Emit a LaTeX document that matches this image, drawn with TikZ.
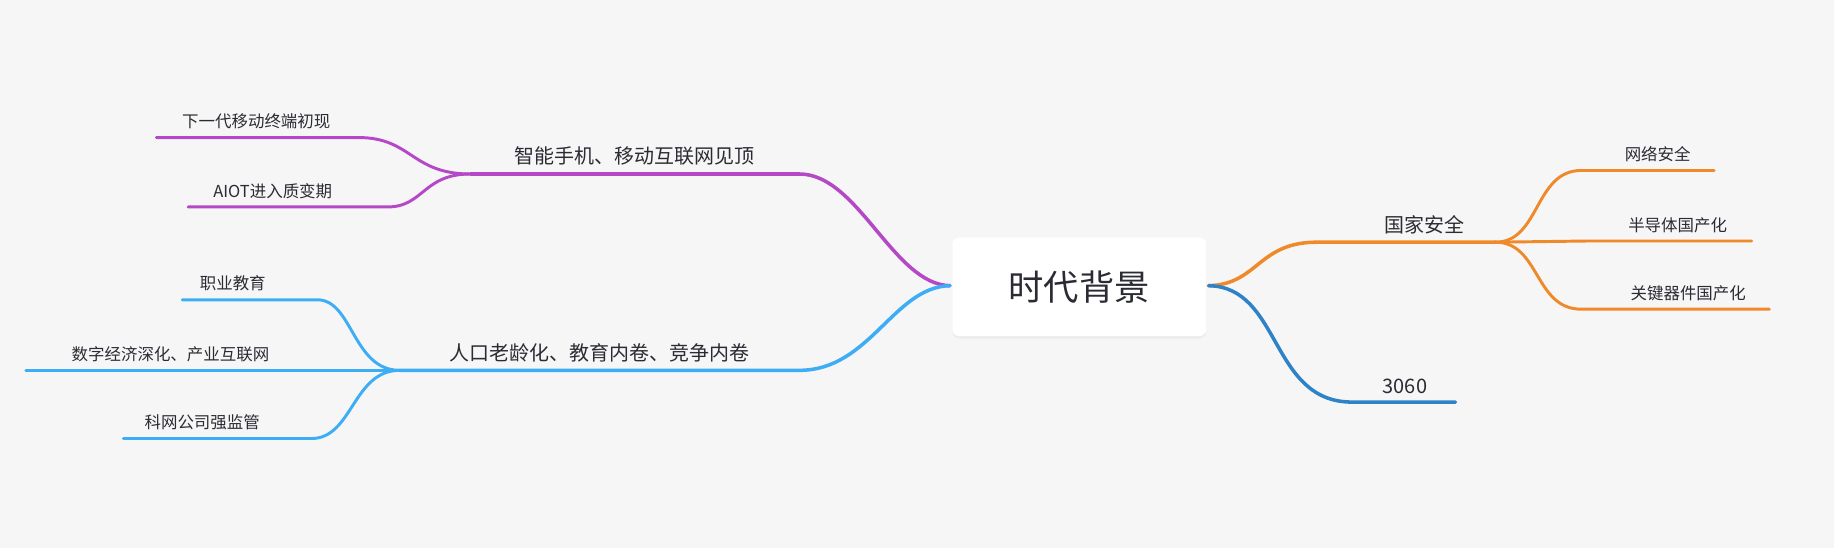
\documentclass[tikz,border=0pt]{standalone}
\usepackage{fontspec}
\setmainfont{Noto Sans CJK SC}
\usetikzlibrary{positioning, shadows}
\definecolor{bgcol}{HTML}{F6F6F6}
\definecolor{mypurple}{HTML}{B548C6}
\definecolor{mysky}{HTML}{3DAEF5}
\definecolor{myorange}{HTML}{F0892A}
\definecolor{mynavy}{HTML}{2E82C8}
\definecolor{mytext}{HTML}{2B2B33}

\begin{document}
\begin{tikzpicture}[
    x=1pt, y=-1pt,
    root/.style={rectangle, rounded corners=6pt, fill=white, minimum width=216pt, minimum height=84pt, text=mytext, font=\fontsize{30}{32}\selectfont, drop shadow={opacity=0.08, shadow xshift=0pt, shadow yshift=-2pt}},
    topic/.style={text=mytext, font=\fontsize{17}{19}\selectfont, anchor=south, inner sep=2pt},
    leaf/.style={text=mytext, font=\fontsize{14}{16}\selectfont, anchor=south, inner sep=2pt},
    main/.style={line width=3pt, line cap=round},
    sub/.style={line width=2.5pt, line cap=round}
]
\fill[bgcol] (0,0) rectangle (1560,466);
\useasboundingbox (0,0) rectangle (1560,466);

% Root
\node[root] (root) at (918,244) {时代背景};
\coordinate (rootW) at (808,243);
\coordinate (rootE) at (1028,243);

% Purple branch
\coordinate (p0) at (680,148);
\coordinate (p1) at (400,148);
\coordinate (p1a) at (305,117);
\coordinate (p1aa) at (133,117);
\coordinate (p1b) at (330,176);
\coordinate (p1bb) at (160,176);
\node[topic] (phone) at (540,143) {智能手机、移动互联网见顶};
\node[leaf] (mobile) at (218,112) {下一代移动终端初现};
\node[leaf] (aiot) at (232,171) {AIOT进入质变期};
\draw[main, mypurple] (rootW) .. controls (760,242) and (730,148) .. (p0) -- (p1);
\draw[sub, mypurple] (p1) .. controls (350,148) and (350,117) .. (p1a) -- (p1aa);
\draw[sub, mypurple] (p1) .. controls (360,148) and (360,176) .. (p1b) -- (p1bb);

% Sky-blue branch
\coordinate (s0) at (680,315);
\coordinate (s1) at (340,315);
\coordinate (s1a) at (270,255);
\coordinate (s1aa) at (155,255);
\coordinate (s1b) at (265,315);
\coordinate (s1bb) at (22,315);
\coordinate (s1c) at (265,373);
\coordinate (s1cc) at (105,373);
\node[topic] (aging) at (510,310) {人口老龄化、教育内卷、竞争内卷};
\node[leaf] (voc) at (198,250) {职业教育};
\node[leaf] (digit) at (145,310) {数字经济深化、产业互联网};
\node[leaf] (reg) at (172,368) {科网公司强监管};
\draw[main, mysky] (rootW) .. controls (760,244) and (740,315) .. (s0) -- (s1);
\draw[sub, mysky] (s1) .. controls (300,315) and (300,255) .. (s1a) -- (s1aa);
\draw[sub, mysky] (s1) .. controls (300,315) and (300,315) .. (s1b) -- (s1bb);
\draw[sub, mysky] (s1) .. controls (300,315) and (300,373) .. (s1c) -- (s1cc);

% Orange branch
\coordinate (o0) at (1120,206);
\coordinate (o1) at (1272,206);
\coordinate (o1a) at (1345,145);
\coordinate (o1aa) at (1458,145);
\coordinate (o1b) at (1350,205);
\coordinate (o1bb) at (1490,205);
\coordinate (o1c) at (1345,263);
\coordinate (o1cc) at (1505,263);
\node[topic] (sec) at (1212,201) {国家安全};
\node[leaf] (net) at (1410,140) {网络安全};
\node[leaf] (semi) at (1427,200) {半导体国产化};
\node[leaf] (chip) at (1436,258) {关键器件国产化};
\draw[main, myorange] (rootE) .. controls (1070,242) and (1070,206) .. (o0) -- (o1);
\draw[sub, myorange] (o1) .. controls (1310,206) and (1305,145) .. (o1a) -- (o1aa);
\draw[sub, myorange] (o1) -- (o1b) -- (o1bb);
\draw[sub, myorange] (o1) .. controls (1310,206) and (1305,263) .. (o1c) -- (o1cc);

% Navy branch
\coordinate (n0) at (1150,342);
\coordinate (n1) at (1238,342);
\node[topic] (carbon) at (1195,337) {3060};
\draw[main, mynavy] (rootE) .. controls (1090,244) and (1080,342) .. (n0) -- (n1);

\end{tikzpicture}
\end{document}
